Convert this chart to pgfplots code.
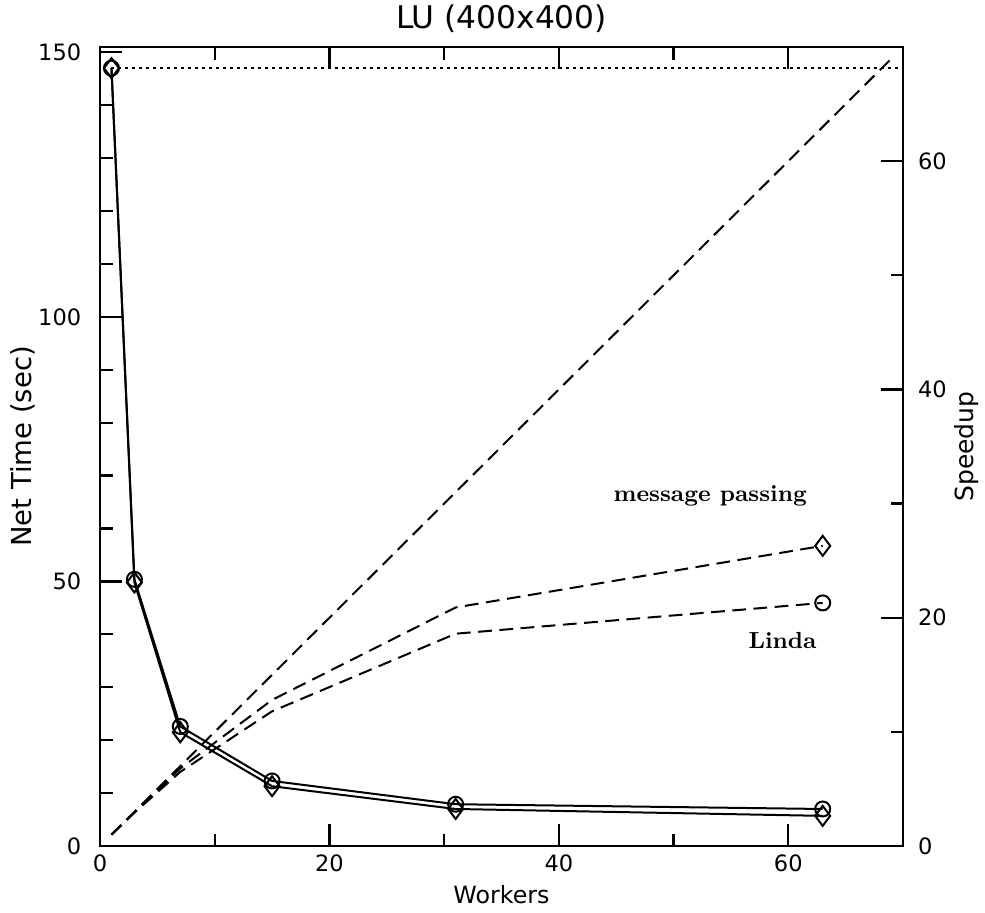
\documentclass[border=0pt]{standalone}
\usepackage{fontspec}
\newfontfamily\plotfont{DejaVu Sans}
\usepackage{pgfplots}
\pgfplotsset{compat=1.18}
\begin{document}
\begin{tikzpicture}
\pgfplotsset{
  every axis/.append style={
    scale only axis, width=321.2pt, height=319.6pt,
    xmin=0, xmax=70, clip=false,
    tick align=inside,
    major tick length=8.8pt, minor tick length=5pt,
    axis line style={line width=1pt},
    every tick/.append style={line width=0.9pt, black},
    tick label style={font=\plotfont\fontsize{9}{10}\selectfont},
    /pgf/number format/assume math mode=true,
  }
}
\begin{axis}[name=main,
  ymin=0, ymax=151,
  xtick={0,20,40,60}, minor xtick={10,30,50},
  ytick={0,50,100,150}, minor ytick={10,20,30,40,60,70,80,90,110,120,130,140},
  ytick pos=left, xtick pos=both,
  xticklabel pos=lower,
  yticklabel style={xshift=-4pt},
  title={LU (400x400)},
  title style={at={(axis description cs:0.5,1)}, anchor=base, yshift=1.4pt, font=\plotfont\fontsize{12.5}{14}\selectfont},
  xlabel={Workers},
  xlabel style={at={(axis description cs:0.5,0)}, anchor=base, yshift=-22.8pt, font=\plotfont\fontsize{9.5}{11}\selectfont},
  ylabel={Net Time (sec)},
  ylabel style={at={(axis description cs:0,0.5)}, anchor=center, yshift=30.8pt, font=\plotfont\fontsize{11}{13}\selectfont},
]
\addplot[black, line width=0.8pt, mark=o, mark size=3pt, mark options={solid, line width=0.8pt}]
  coordinates {(1,147) (3,50.4) (7,22.6) (15,12.3) (31,7.9) (63,7.0)};
\addplot[black, line width=0.8pt, mark=diamond, mark size=4pt, mark options={solid, line width=0.8pt}]
  coordinates {(1,147) (3,49.8) (7,21.5) (15,11.3) (31,7.0) (63,5.7)};
\addplot[black, line width=0.9pt, dash pattern=on 1.2pt off 1.6pt]
  coordinates {(1,147) (70,147)};
\end{axis}
\begin{axis}[
  ymin=0, ymax=70,
  axis x line=none, axis y line*=right,
  ytick={0,20,40,60}, minor ytick={10,30,50},
  yticklabel style={xshift=2.5pt},
  ylabel={Speedup},
  ylabel style={at={(axis description cs:1,0.5)}, anchor=center, yshift=-25.6pt, font=\plotfont\fontsize{10}{12}\selectfont},
]
\addplot[black, line width=0.8pt, dash pattern=on 5.5pt off 3pt]
  coordinates {(1,1) (69,69)};
\addplot[black, line width=0.8pt, dash pattern=on 5.5pt off 3pt, mark=o, mark size=3pt, mark indices={6}, mark options={solid, line width=0.8pt}]
  coordinates {(1,1) (3,2.92) (7,6.5) (15,11.8) (31,18.6) (63,21.3)};
\addplot[black, line width=0.8pt, dash pattern=on 5.5pt off 3pt, mark=diamond, mark size=4pt, mark indices={6}, mark options={solid, line width=0.8pt}]
  coordinates {(1,1) (3,2.95) (7,6.8) (15,12.8) (31,20.9) (63,26.3)};
\node[font=\fontsize{9.3}{11}\selectfont\bfseries] at (axis cs:53.2,30.7) {message passing};
\node[font=\fontsize{9.3}{11}\selectfont\bfseries] at (axis cs:59.5,18.0) {Linda};
\end{axis}
\pgfresetboundingbox
\path ([xshift=-40pt,yshift=-26.4pt]main.south west) rectangle ([xshift=32.8pt,yshift=18.8pt]main.north east);
\end{tikzpicture}
\end{document}
